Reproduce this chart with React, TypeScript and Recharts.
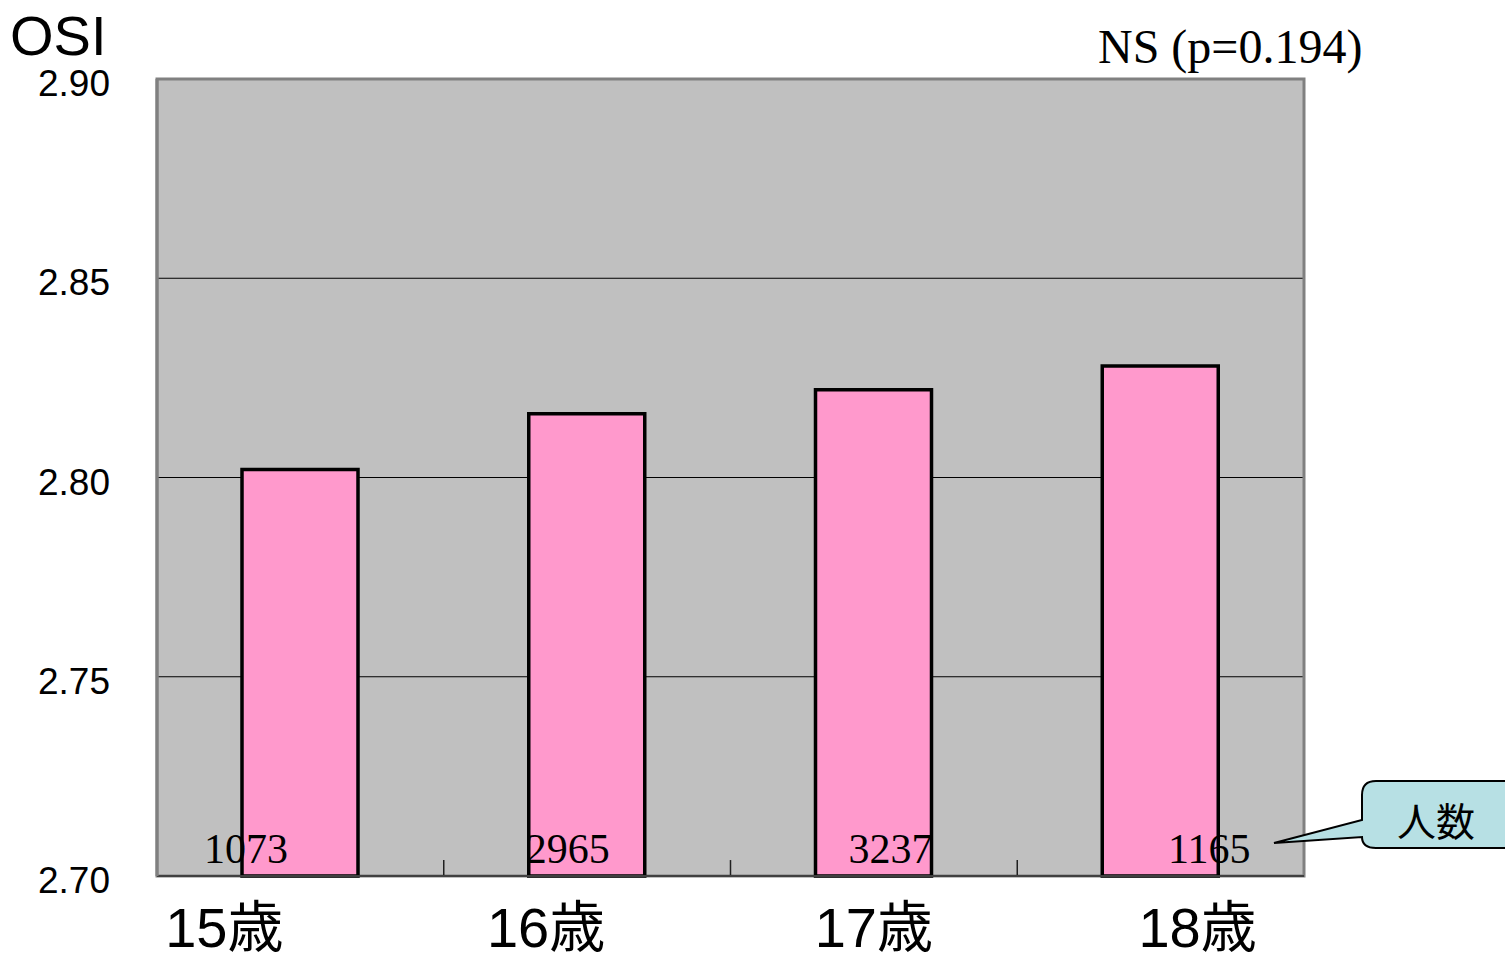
import { BarChart, Bar, XAxis, YAxis, CartesianGrid, ReferenceArea, ReferenceLine, LabelList } from 'recharts'

const ages = ['15歳', '16歳', '17歳', '18歳']
const osi = [2.802, 2.816, 2.822, 2.828]
const counts = [1073, 2965, 3237, 1165]
const yTicks = [2.7, 2.75, 2.8, 2.85, 2.9]

// the original text boxes sit a little off the bar centres
const labelShift = [-76, -41, 0, 37]
const countShift = [-54, -19, 17, 49]

const data = ages.map((age, i) => ({ age, osi: osi[i], n: counts[i] }))

const sans = '"Liberation Sans", Arial, "Noto Sans CJK JP", sans-serif'
const serif = '"Liberation Serif", "Times New Roman", serif'

const AgeTick = (props: any) => {
  const { x, y, payload, index } = props
  return (
    <text x={x + labelShift[index]} y={y + 69} textAnchor="middle" fontFamily={sans} fontSize={56} fill="#000">
      {payload.value}
    </text>
  )
}

const OsiTick = (props: any) => {
  const { y, payload } = props
  return (
    <text x={110} y={y + 17} textAnchor="end" fontFamily={sans} fontSize={37} fill="#000">
      {Number(payload.value).toFixed(2)}
    </text>
  )
}

const CountLabel = (props: any) => {
  const { x, y, width, height, value, index } = props
  return (
    <text x={x + width / 2 + countShift[index]} y={y + height - 13} textAnchor="middle" fontFamily={serif} fontSize={42} fill="#000">
      {value}
    </text>
  )
}

export default function App() {
  return (
    <div style={{ position: 'absolute', left: 0, top: 0, width: 1505, height: 953, background: '#fff' }}>
      <BarChart width={1505} height={953} data={data} margin={{ top: 79, right: 201, bottom: 0, left: 0 }}>
        <CartesianGrid fill="#c0c0c0" vertical={false} stroke="#000" horizontalValues={[2.75, 2.8, 2.85]} />
        <XAxis dataKey="age" height={77} tickLine={false} tickSize={0} tick={<AgeTick />} axisLine={{ stroke: '#404040', strokeWidth: 2 }} />
        <YAxis width={157} domain={[2.7, 2.9]} ticks={yTicks} tickLine={false} tickSize={0} tick={<OsiTick />} axisLine={{ stroke: '#808080', strokeWidth: 3 }} />
        <ReferenceArea y1={2.7} y2={2.9} fill="none" stroke="#808080" strokeWidth={3} />
        {ages.slice(1).map((a) => (
          <ReferenceLine key={a} position="start" segment={[{ x: a, y: 2.7 }, { x: a, y: 2.704 }]} stroke="#202020" strokeWidth={1.5} />
        ))}
        <Bar dataKey="osi" fill="#ff99cc" stroke="#000" strokeWidth={3.5} barSize={116} isAnimationActive={false}>
          <LabelList dataKey="n" content={<CountLabel />} />
        </Bar>
      </BarChart>
      <svg width={1505} height={953} style={{ position: 'absolute', left: 0, top: 0, pointerEvents: 'none' }}>
        <text x={10} y={55} fontFamily={sans} fontSize={56} fill="#000">OSI</text>
        <text x={1098} y={63} fontFamily={serif} fontSize={48} fill="#000">NS (p=0.194)</text>
        <path
          d="M1376,781 H1515 V848 H1376 Q1362,848 1362,837 L1274,843 L1362,820 V795 Q1362,781 1376,781 Z"
          fill="#b7e0e4"
          stroke="#000"
          strokeWidth={2}
        />
        <text x={1436} y={836} textAnchor="middle" fontFamily={sans} fontSize={39} fill="#000">人数</text>
      </svg>
    </div>
  )
}
